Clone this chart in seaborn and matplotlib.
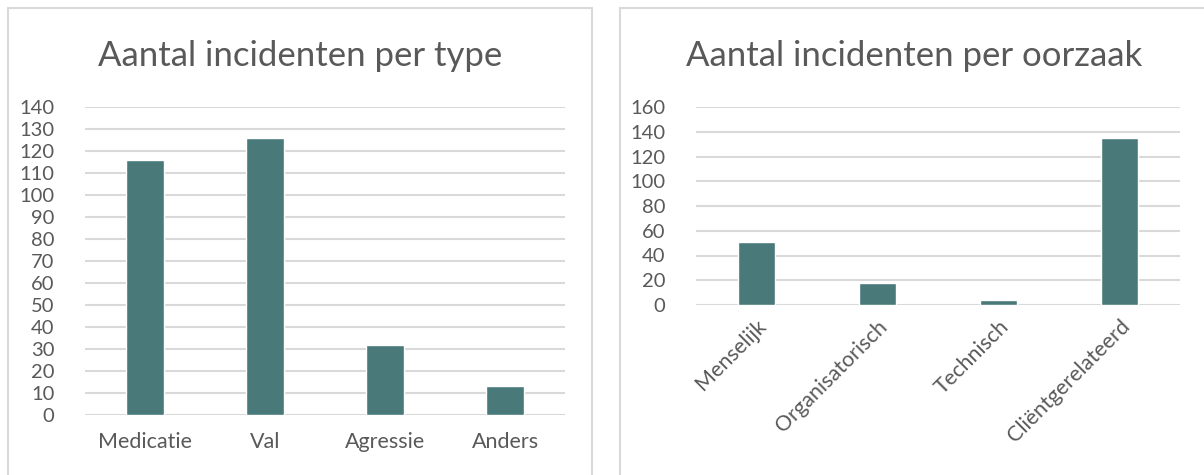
import matplotlib
matplotlib.use("Agg")
import matplotlib.pyplot as plt
import seaborn as sns
import pandas as pd
from matplotlib.patches import Rectangle

# Data
types = ["Medicatie", "Val", "Agressie", "Anders"]
type_counts = [116, 126, 32, 13]

causes = ["Menselijk", "Organisatorisch", "Technisch", "Cliëntgerelateerd"]
cause_counts = [51, 18, 4, 135]

bar_color = "#497979"
text_color = "#595959"
grid_color = "#D9D9D9"

sns.set_theme(style="white")
plt.rcParams["font.family"] = ["Lato", "DejaVu Sans"]

W, H = 1204, 475
fig = plt.figure(figsize=(W / 100, H / 100), dpi=100)


def px_axes(x0, y0, x1, y1):
    # pixel box -> figure fraction
    return fig.add_axes([x0 / W, 1 - y1 / H, (x1 - x0) / W, (y1 - y0) / H])


# panel borders
for x0, x1 in [(8, 592), (620, 1215)]:
    fig.patches.append(
        Rectangle((x0 / W, -0.1), (x1 - x0) / W, 1.1 - 8 / H,
                  transform=fig.transFigure, fill=False,
                  edgecolor=grid_color, linewidth=1.5)
    )

ax1 = px_axes(85, 107, 565, 415)
ax2 = px_axes(696, 107, 1180, 305)

df1 = pd.DataFrame({"type": types, "count": type_counts})
df2 = pd.DataFrame({"cause": causes, "count": cause_counts})

sns.barplot(data=df1, x="type", y="count", color=bar_color, width=0.31,
            saturation=1, ax=ax1, zorder=3)
sns.barplot(data=df2, x="cause", y="count", color=bar_color, width=0.31,
            saturation=1, ax=ax2, zorder=3)

ax1.set_ylim(0, 140)
ax1.set_yticks(range(0, 141, 10))
ax2.set_ylim(0, 160)
ax2.set_yticks(range(0, 161, 20))

for ax in (ax1, ax2):
    ax.set_xlim(-0.5, 3.5)
    ax.set_xlabel("")
    ax.set_ylabel("")
    for s in ax.spines.values():
        s.set_visible(False)
    ax.yaxis.grid(True, color=grid_color, linewidth=1.5, zorder=0)
    ax.set_axisbelow(True)
    ax.tick_params(axis="y", length=0, pad=22, labelsize=14.5, labelcolor=text_color)
    ax.tick_params(axis="x", length=0, labelsize=15.5, labelcolor=text_color)

ax1.tick_params(axis="x", pad=12)
ax2.tick_params(axis="x", pad=8)
for lbl in ax2.get_xticklabels():
    lbl.set_rotation(45)
    lbl.set_ha("right")
    lbl.set_rotation_mode("anchor")

fig.text(300 / W, 1 - 56 / H, "Aantal incidenten per type", ha="center",
         va="center", fontsize=25, color=text_color)
fig.text(914 / W, 1 - 56 / H, "Aantal incidenten per oorzaak", ha="center",
         va="center", fontsize=25, color=text_color)

fig.savefig("out.png", dpi=100, facecolor="white")
